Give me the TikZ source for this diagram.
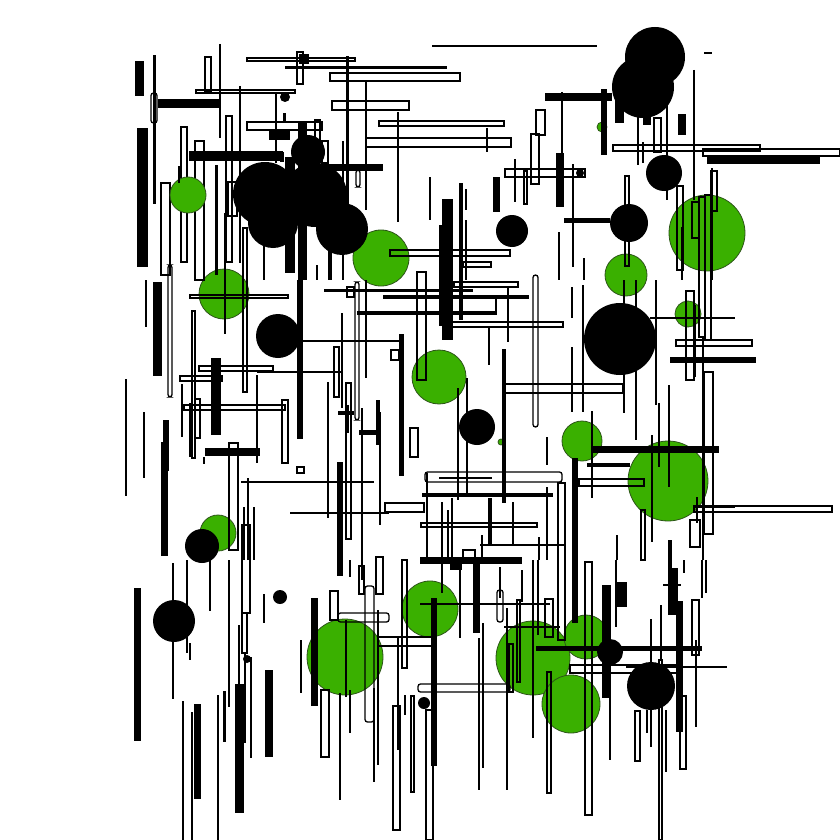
\documentclass[tikz,border=0pt]{standalone}
\definecolor{grn}{RGB}{58,176,0}
\definecolor{grnedge}{RGB}{45,85,25}
\begin{document}
\begin{tikzpicture}[x=1pt,y=-1pt,
  ob/.style={draw=black,line width=1.3pt},
  tl/.style={draw=black,line width=1.3pt},
  ml/.style={draw=black,line width=2.2pt},
  gc/.style={fill=grn,draw=grnedge,line width=0.8pt}]
\useasboundingbox (0,0) rectangle (840,840);
\fill[white] (0,0) rectangle (840,840);
% green circles
\foreach \x/\y/\r in {381/258/28,224/294/25,707/233/38,626/275/21,688/314/13,439/377/27,582/441/20,668/481/40,218/533/18,345/657/38,430/609/28,533/658/37,571/704/29,586/637/22,602/127/5,501/442/3}
  \draw[gc] (\x,\y) circle (\r pt);
% outlined rectangles
\foreach \a/\b/\c/\d in {205/57/211/91,196/90/295/93,247/58/355/61,297/52/303/84,330/73/460/81,332/101/409/110,379/121/504/126,366/138/511/147,247/122/322/130,181/127/187/262,195/141/204/280,226/116/232/262,161/183/170/275,228/182/237/216,536/110/545/135,531/134/539/184,505/169/585/177,524/171/527/204,613/145/760/151,703/149/840/156,654/118/661/152,625/176/629/266,677/186/683/270,692/202/699/238,711/171/717/211,699/197/705/337,705/195/711/340,686/291/694/380,676/340/752/346,704/372/713/534,694/506/832/512,690/520/700/547,579/479/644/486,558/483/565/640,390/250/510/256,463/262/491/267,417/272/426/380,454/282/518/287,384/296/528/298,358/312/496/314,452/322/563/327,505/384/623/393,334/347/339/397,391/350/399/360,346/383/351/539,410/428/418/457,282/400/288/463,297/467/304/473,385/503/424/512,421/523/537/527,463/550/475/560,180/376/222/381,199/366/273/371,184/405/285/410,195/399/200/438,192/311/195/458,190/295/288/298,229/443/238/550,242/525/250/613,242/613/247/653,321/690/329/757,330/591/338/620,393/706/400/830,411/696/414/792,545/599/553/637,547/672/551/793,509/644/513/692,517/600/520/682,585/562/592/815,635/711/640/761,680/696/686/769,692/600/699/655,570/665/677/673,659/660/662/840,376/557/383/594,359/566/364/594,426/710/433/840,347/287/354/297,641/510/645/560,243/228/247/392,315/120/320/142,322/141/328/163,402/560/407/668,339/412/353/414}
  \draw[ob] (\a,\b) rectangle (\c,\d);
% rounded outlined rectangles
\foreach \a/\b/\c/\d in {151/93/157/123,533/275/538/427,425/472/562/482,355/282/359/420,338/613/389/622,365/586/374/722,418/684/510/692,497/590/503/622,168/265/172/397,356/170/360/187}
  \draw[ob,rounded corners=2.5pt] (\a,\b) rectangle (\c,\d);
\draw[gc] (188,195) circle (18pt);
% thin lines
\foreach \a/\b/\c/\d in {220/44/220/138,240/86/240/263,276/92/276/163,432/46/597/46,704/53/712/53,366/81/366/210,398/112/398/222,487/128/487/152,694/70/694/200,126/379/126/496,144/412/144/478,183/701/183/840,192/712/192/840,218/695/218/840,229/560/229/707,173/563/173/699,210/560/210/611,264/594/264/623,251/657/251/758,239/625/239/742,245/653/245/743,190/643/190/660,241/482/374/482,290/513/389/513,328/382/328/518,342/313/342/408,348/405/348/433,362/408/362/580,366/280/366/378,380/412/380/525,427/473/427/560,442/502/442/593,448/510/448/560,452/498/452/560,467/378/467/493,482/535/482/560,496/297/496/313,513/502/513/545,539/537/539/560,547/487/547/560,489/328/489/365,508/287/508/342,547/437/547/465,480/545/565/545,301/640/301/693,346/620/346/697,350/560/350/577,350/690/350/733,374/688/374/782,398/637/398/750,405/695/405/715,442/560/442/593,460/560/460/638,479/638/479/790,500/567/500/598,507/608/507/790,533/560/533/738,538/560/538/635,378/637/432/637,378/646/432/646,565/560/565/578,610/697/610/760,616/560/616/627,647/710/647/733,651/619/651/747,661/605/661/660,666/710/666/772,696/640/696/727,626/667/727/667,663/585/681/585,684/560/684/573,702/560/702/598,706/560/706/593,703/337/703/560,572/287/572/318,583/285/583/412,572/347/572/412,592/411/592/498,617/535/617/560,636/280/636/440,652/435/652/480,659/403/659/467,669/385/669/487,650/318/735/318,638/100/638/165,643/142/643/163,667/100/667/200,573/164/573/267,584/258/584/280,562/92/562/155,682/227/682/280,712/168/712/280,179/166/179/183,225/213/225/334,264/233/264/280,146/280/146/327,204/457/204/464,248/478/248/560,257/375/257/463,244/507/244/560,254/507/254/560,343/141/343/280,317/265/317/280,430/177/430/220,466/189/466/210,466/220/466/280,515/159/515/202,559/232/559/280,656/280/656/405}
  \draw[tl] (\a,\b) -- (\c,\d);
% medium lines
\foreach \a/\b/\c/\d in {182/384/182/437,257/372/343/372,300/341/400/341,439/478/492/478,340/693/340/800,378/610/378/765,483/623/483/768,504/627/560/627,624/280/624/413,652/465/652/542,522/570/522/602,458/388/458/500,695/305/695/377,697/497/697/523,187/560/187/653}
  \draw[ml] (\a,\b) -- (\c,\d);
% thick black bars
\foreach \a/\b/\c/\d in {135/61/144/96,153/55/156/204,158/99/220/108,137/128/148/267,189/151/283/161,269/131/290/140,298/121/307/280,285/157/295/273,300/164/383/171,215/165/218/275,328/230/332/280,280/152/284/162,153/282/162/376,211/358/221/435,205/448/260/456,163/420/169/471,161/442/168/556,189/403/193/457,134/588/141/741,194/704/201/799,235/684/244/813,265/670/273/757,223/691/226/742,442/199/453/340,439/225/445/326,459/183/463/320,493/177/500/212,556/153/564/207,545/93/612/101,601/89/607/155,615/100/624/123,643/113/651/125,678/114/686/135,707/156/820/164,564/218/610/223,670/357/756/363,592/446/719/453,587/463/630/467,572/458/578/623,694/505/735/508,422/493/553/497,488/498/492/545,502/349/506/503,399/334/404/476,337/462/343/576,376/400/380/445,359/430/380/435,297/280/303/439,324/289/473/292,420/557/522/564,473/560/480/633,450/560/462/570,431/598/437/766,420/603/550/605,536/646/702/651,602/585/611/698,617/582/627/607,668/568/678/615,676/601/683/732,668/540/672/580,311/598/318/706,285/66/447/69,346/56/349/212,299/54/309/64,283/113/286/122}
  \fill[black] (\a,\b) rectangle (\c,\d);
% black circles
\foreach \x/\y/\r in {655/57/30,643/87/31,265/194/32,308/152/17,315/195/32,273/223/25,342/229/26,285/97/5,664/173/18,629/223/19,512/231/16,620/339/36,278/336/22,477/427/18,202/546/17,174/621/21,280/597/7,247/659/4,424/703/6,610/652/13,651/686/24,580/173/4}
  \fill[black] (\x,\y) circle (\r pt);
\end{tikzpicture}
\end{document}
